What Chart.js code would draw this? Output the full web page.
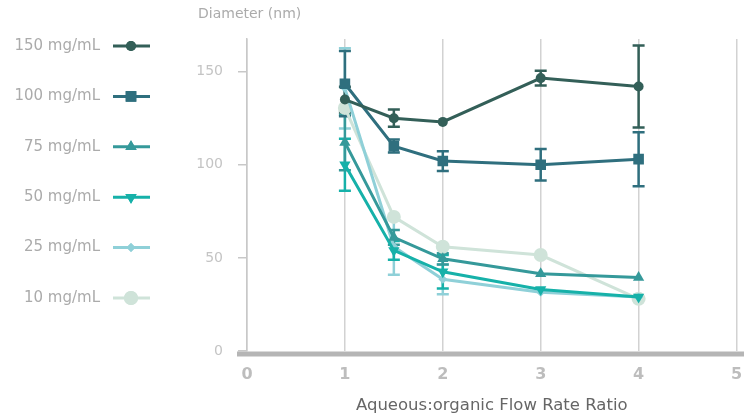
<!DOCTYPE html>
<html>
<head>
<meta charset="utf-8">
<script src="https://cdn.jsdelivr.net/npm/chart.js@4/dist/chart.umd.min.js"></script>
<style>
  html, body { margin: 0; padding: 0; background: #fff; }
  #wrap { width: 744px; height: 419px; }
</style>
</head>
<body>
<div id="wrap"><canvas id="size_chart" width="744" height="419"></canvas></div>
<script>
const ratios = [1, 1.5, 2, 3, 4];
const xTicks = [0, 1, 2, 3, 4, 5];
const yTicks = [0, 50, 100, 150];

const labels = ["150 mg/mL", "100 mg/mL", "75 mg/mL", "50 mg/mL", "25 mg/mL", "10 mg/mL"];

const d150 = [135, 125, 123, 146.5, 142];
const e150 = [6.8, 4.6, 0, 4, 22];
const d100 = [143.5, 110, 102, 100, 103];
const e100 = [17.5, 3.5, 5.3, 8.5, 14.5];
const d75 = [112, 61, 49.5, 41.5, 39.5];
const e75 = [15, 4, 3, 0, 0];
const d50 = [100, 54, 42.5, 33, 29];
const e50 = [14, 5, 9, 0, 0];
const d25 = [141, 56, 38.5, 31.5, 29];
const e25 = [21.5, 15, 8, 0, 0];
const d10 = [130.5, 72, 56, 51.5, 28];
const e10 = [0, 0, 0, 0, 0];

const colors = ["#335f58", "#2f6f7e", "#35999a", "#16b1a9", "#8fd0d8", "#cfe3d9"];
const styles = [
  { pointStyle: "circle", r: 5, rot: 0 },
  { pointStyle: "rect", r: 7.5, rot: 0 },
  { pointStyle: "triangle", r: 6.5, rot: 0 },
  { pointStyle: "triangle", r: 6.5, rot: 180 },
  { pointStyle: "rectRot", r: 4.5, rot: 0 },
  { pointStyle: "circle", r: 7, rot: 0 },
];

const values = [d150, d100, d75, d50, d25, d10];
const errors = [e150, e100, e75, e50, e25, e10];

const font = "'DejaVu Sans', sans-serif";

let datasets = [];
values.forEach((vals, i) => {
  datasets.push({
    label: labels[i],
    data: vals.map((v, j) => ({ x: ratios[j], y: v })),
    errors: errors[i],
    borderColor: colors[i],
    backgroundColor: colors[i],
    borderWidth: 3,
    pointStyle: styles[i].pointStyle,
    pointRadius: styles[i].r,
    pointRotation: styles[i].rot,
    pointBorderWidth: 0,
    pointHoverRadius: styles[i].r,
    tension: 0,
  });
});

// error bars, drawn under the lines
const errorBars = {
  id: "errorBars",
  beforeDatasetsDraw(chart) {
    const ctx = chart.ctx;
    const xs = chart.scales.x, ys = chart.scales.y;
    ctx.save();
    for (let i = chart.data.datasets.length - 1; i >= 0; i--) {
      const ds = chart.data.datasets[i];
      ctx.strokeStyle = ds.borderColor;
      ctx.lineWidth = 2.5;
      ds.data.forEach((p, j) => {
        const e = ds.errors[j];
        if (!e) return;
        const px = xs.getPixelForValue(p.x);
        const top = ys.getPixelForValue(p.y + e);
        const bot = ys.getPixelForValue(p.y - e);
        ctx.beginPath();
        ctx.moveTo(px, top); ctx.lineTo(px, bot);
        ctx.moveTo(px - 6, top); ctx.lineTo(px + 6, top);
        ctx.moveTo(px - 6, bot); ctx.lineTo(px + 6, bot);
        ctx.stroke();
      });
    }
    ctx.restore();
  },
  afterDraw(chart) {
    const ctx = chart.ctx;
    const area = chart.chartArea;
    ctx.save();
    // heavy base line
    ctx.strokeStyle = "#b5b5b5";
    ctx.lineWidth = 5;
    ctx.beginPath();
    ctx.moveTo(237, area.bottom + 3);
    ctx.lineTo(744, area.bottom + 3);
    ctx.stroke();
    // y title
    ctx.fillStyle = "#ababab";
    ctx.font = "14px " + font;
    ctx.textBaseline = "middle";
    ctx.textAlign = "left";
    ctx.fillText("Diameter (nm)", 198, 14);
    // legend on the left
    chart.data.datasets.forEach((ds, i) => {
      const y = 46 + i * 50.4;
      ctx.fillStyle = "#ababab";
      ctx.font = "15px " + font;
      ctx.textAlign = "right";
      ctx.fillText(ds.label, 100, y);
      ctx.strokeStyle = ds.borderColor;
      ctx.lineWidth = 3;
      ctx.beginPath();
      ctx.moveTo(113, y); ctx.lineTo(150, y);
      ctx.stroke();
      ctx.fillStyle = ds.backgroundColor;
      Chart.helpers.drawPoint(ctx, {
        pointStyle: ds.pointStyle, radius: ds.pointRadius,
        rotation: ds.pointRotation, borderWidth: 0
      }, 131, y);
      ctx.fill();
    });
    ctx.restore();
  }
};

const size_chart = new Chart(document.getElementById("size_chart"), {
  type: "line",
  data: { datasets: datasets },
  plugins: [errorBars],
  options: {
    responsive: false,
    devicePixelRatio: 1,
    animation: false,
    layout: { padding: { left: 196, top: 39, right: 7, bottom: 0 } },
    plugins: { legend: { display: false }, tooltip: { enabled: false } },
    scales: {
      x: {
        type: "linear",
        min: 0,
        max: 5,
        afterBuildTicks: (s) => { s.ticks = xTicks.map(v => ({ value: v })); },
        afterFit: (s) => { s.height = 68; s.paddingLeft = 0; s.paddingRight = 0; },
        border: { display: false },
        grid: { color: "#d2d2d2", lineWidth: 1.5, drawTicks: false },
        ticks: { color: "#bdbdbd", padding: 14, font: { family: font, size: 16, weight: "bold" } },
        title: {
          display: true,
          text: "Aqueous:organic Flow Rate Ratio",
          color: "#666666",
          font: { family: font, size: 16.5 },
          padding: { top: 10, bottom: 3 },
        },
      },
      y: {
        min: 0,
        max: 167.5,
        afterBuildTicks: (s) => { s.ticks = yTicks.map(v => ({ value: v })); },
        afterFit: (s) => { s.width = 51; },
        border: { color: "#c8c8c8", width: 1.5 },
        grid: { drawOnChartArea: false, drawTicks: true, tickLength: 9, color: "#c8c8c8", lineWidth: 1.5 },
        ticks: { color: "#c4c4c4", padding: 15, font: { family: font, size: 14 } },
      },
    },
  },
});
</script>
</body>
</html>
